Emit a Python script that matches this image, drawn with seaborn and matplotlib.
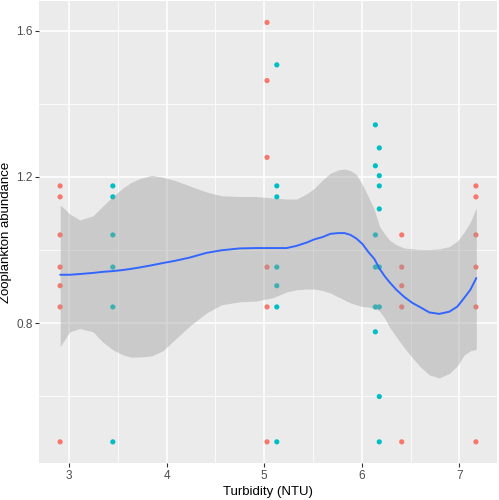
import numpy as np
import pandas as pd
import matplotlib
matplotlib.use('Agg')
import matplotlib.pyplot as plt
import seaborn as sns
from matplotlib.ticker import MultipleLocator

# observed points, two groups
red_x = [2.91] * 7 + [5.03] * 6 + [6.41] * 5 + [7.17] * 6
red_y = [1.175, 1.145, 1.041, 0.953, 0.902, 0.844, 0.475,
         1.622, 1.463, 1.253, 0.953, 0.844, 0.475,
         1.041, 0.953, 0.902, 0.844, 0.475,
         1.175, 1.145, 1.041, 0.953, 0.844, 0.475]
teal_x = [3.45] * 6 + [5.13] * 7 + [6.14] * 6 + [6.18] * 8
teal_y = [1.175, 1.145, 1.041, 0.953, 0.844, 0.475,
          1.506, 1.175, 1.145, 0.953, 0.902, 0.844, 0.475,
          1.342, 1.230, 1.041, 0.953, 0.844, 0.776,
          1.279, 1.203, 1.175, 1.112, 0.953, 0.844, 0.599, 0.475]

# smooth curve and confidence band
smooth_x = [2.911, 3.010, 3.113, 3.246, 3.348, 3.450, 3.552, 3.634, 3.726, 3.849,
            3.962, 4.084, 4.238, 4.412, 4.565, 4.749, 4.913, 5.087, 5.230, 5.332,
            5.435, 5.517, 5.598, 5.680, 5.762, 5.824, 5.885, 5.946, 6.008, 6.069,
            6.130, 6.182, 6.233, 6.284, 6.355, 6.437, 6.519, 6.601, 6.693, 6.795,
            6.898, 6.980, 7.051, 7.113, 7.174]
smooth_fit = [0.932, 0.932, 0.934, 0.937, 0.940, 0.942, 0.945, 0.948, 0.952, 0.958,
              0.964, 0.970, 0.979, 0.992, 0.999, 1.004, 1.005, 1.005, 1.005, 1.011,
              1.020, 1.029, 1.035, 1.044, 1.046, 1.046, 1.041, 1.031, 1.016, 0.994,
              0.975, 0.949, 0.929, 0.912, 0.891, 0.871, 0.855, 0.843, 0.829, 0.825,
              0.831, 0.845, 0.869, 0.891, 0.923]
smooth_lo = [0.736, 0.776, 0.785, 0.776, 0.748, 0.727, 0.713, 0.707, 0.707, 0.710,
             0.724, 0.754, 0.792, 0.828, 0.850, 0.858, 0.860, 0.869, 0.885, 0.891,
             0.893, 0.893, 0.889, 0.882, 0.871, 0.863, 0.855, 0.850, 0.845, 0.844,
             0.839, 0.833, 0.814, 0.789, 0.762, 0.732, 0.705, 0.680, 0.658, 0.650,
             0.662, 0.683, 0.713, 0.724, 0.728]
smooth_hi = [1.123, 1.098, 1.082, 1.093, 1.120, 1.146, 1.169, 1.184, 1.195, 1.204,
             1.199, 1.190, 1.175, 1.158, 1.148, 1.146, 1.146, 1.142, 1.139, 1.139,
             1.153, 1.169, 1.191, 1.210, 1.219, 1.221, 1.217, 1.206, 1.178, 1.145,
             1.109, 1.065, 1.044, 1.027, 1.014, 1.005, 1.003, 1.001, 1.001, 1.003,
             1.009, 1.024, 1.049, 1.076, 1.115]

x_ticks = [3, 4, 5, 6, 7]
y_ticks = [0.8, 1.2, 1.6]

pts = pd.DataFrame({'turbidity': red_x + teal_x,
                    'abundance': red_y + teal_y,
                    'group': ['a'] * len(red_x) + ['b'] * len(teal_x)})
smooth = pd.DataFrame({'turbidity': smooth_x, 'fit': smooth_fit,
                       'lo': smooth_lo, 'hi': smooth_hi})

sns.set_theme(style='darkgrid', rc={
    'axes.facecolor': '#EBEBEB',
    'grid.color': 'white',
    'axes.edgecolor': '#EBEBEB',
})
plt.rcParams['font.family'] = ['Liberation Sans', 'DejaVu Sans']

fig = plt.figure(figsize=(4.99, 5.0), dpi=100)
ax = fig.add_axes([0.0788, 0.0746, 0.9166, 0.9229])

sns.scatterplot(data=pts, x='turbidity', y='abundance', hue='group',
                palette={'a': '#F8766D', 'b': '#00BFC4'}, s=14, linewidth=0,
                legend=False, ax=ax, zorder=2)
ax.fill_between(smooth['turbidity'], smooth['lo'], smooth['hi'],
                color='#999999', alpha=0.4, linewidth=0, zorder=3)
sns.lineplot(data=smooth, x='turbidity', y='fit', color='#3366FF',
             linewidth=1.4, ax=ax, zorder=4)

ax.set_xlim(2.697, 7.383)
ax.set_ylim(0.418, 1.680)
ax.set_xticks(x_ticks)
ax.set_yticks(y_ticks)
ax.set_xticklabels([str(t) for t in x_ticks])
ax.set_yticklabels([f'{t:.1f}' for t in y_ticks])
ax.xaxis.set_minor_locator(MultipleLocator(0.5))
ax.yaxis.set_minor_locator(MultipleLocator(0.2))
ax.grid(which='major', color='white', linewidth=1.1)
ax.grid(which='minor', color='white', linewidth=0.55)
ax.set_axisbelow(True)
for sp in ax.spines.values():
    sp.set_visible(False)

ax.tick_params(axis='both', which='major', length=3, width=0.8, color='#333333',
               labelsize=8.5, labelcolor='#4D4D4D', pad=2, bottom=True, left=True)
ax.tick_params(axis='both', which='minor', length=0)
ax.set_xlabel('Turbidity (NTU)', fontsize=9.5, color='black', labelpad=3)
ax.set_ylabel('Zooplankton abundance', fontsize=9.5, color='black', labelpad=3)

plt.savefig('out.png', dpi=100)
